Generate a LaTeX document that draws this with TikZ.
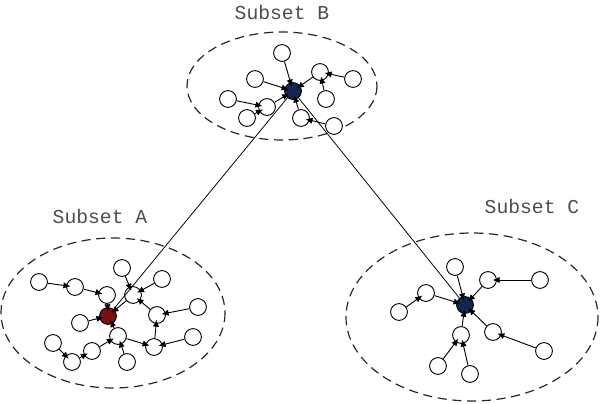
\documentclass[tikz,border=0pt]{standalone}
\usepackage{fontspec}
\setmonofont{Liberation Mono}
\usetikzlibrary{arrows.meta}
\definecolor{hubnavy}{HTML}{132650}
\definecolor{hubmaroon}{HTML}{7A1014}
\tikzset{
  member/.style={circle, draw=black, fill=white, line width=0.65pt, minimum size=0.42cm, inner sep=0pt},
  hubB/.style={member, fill=hubnavy},
  hubA/.style={member, fill=hubmaroon},
  subsetring/.style={draw=black!85, line width=0.85pt, dash pattern=on 6.5pt off 4pt},
  subsetlabel/.style={font=\ttfamily\fontsize{14}{16}\selectfont, text=black!70},
  link/.style={line width=0.65pt, -{Latex[length=5pt,width=4.5pt]}, shorten >=-3pt},
  bridge/.style={line width=0.55pt},
}

\begin{document}
\begin{tikzpicture}[x=0.025cm,y=-0.025cm]
\useasboundingbox (0,0) rectangle (600,403);
% subsets
\draw[subsetring] (282,86) ellipse [x radius=95, y radius=54];
\draw[subsetring] (113,313) ellipse [x radius=112, y radius=75];
\draw[subsetring] (472,317) ellipse [x radius=126, y radius=84];
\node[subsetlabel] (labB) at (282,12) {Subset B};
\node[subsetlabel] (labA) at (100,216) {Subset A};
\node[subsetlabel] (labC) at (532,206) {Subset C};
% subset B
\node[hubB] (hB) at (293,91) {};
\node[member] (b1) at (282,53) {};
\node[member] (b2) at (255,79) {};
\node[member] (bR) at (320,72) {};
\node[member] (b3) at (353,79) {};
\node[member] (b4) at (326,99) {};
\node[member] (bL) at (267,107) {};
\node[member] (b5) at (228,99) {};
\node[member] (b6) at (247,118) {};
\node[member] (b7) at (301,118) {};
\node[member] (b8) at (334,126) {};
% subset A
\node[hubA] (hA) at (108,316) {};
\node[member] (a1) at (39,282) {};
\node[member] (a2) at (75,287) {};
\node[member] (a3) at (107,295) {};
\node[member] (aR) at (133,295) {};
\node[member] (a4) at (122,268) {};
\node[member] (a5) at (162,279) {};
\node[member] (a6) at (157,315) {};
\node[member] (a7) at (198,307) {};
\node[member] (a8) at (80,323) {};
\node[member] (aS) at (118,336) {};
\node[member] (a9) at (154,347) {};
\node[member] (a10) at (193,337) {};
\node[member] (a11) at (127,362) {};
\node[member] (a12) at (92,351) {};
\node[member] (a13) at (72,362) {};
\node[member] (a14) at (53,343) {};
% subset C
\node[hubB] (hC) at (465,305) {};
\node[member] (c1) at (455,267) {};
\node[member] (cR) at (488,280) {};
\node[member] (c2) at (540,280) {};
\node[member] (cL) at (426,293) {};
\node[member] (c3) at (399,312) {};
\node[member] (cB) at (493,332) {};
\node[member] (c4) at (544,351) {};
\node[member] (cM) at (461,335) {};
\node[member] (c5) at (438,366) {};
\node[member] (c6) at (470,374) {};
% links
\foreach \s/\t in {b1/hB, b2/hB, bR/hB, b3/bR, b4/bR, bL/hB, b5/bL, b6/bL, b7/hB, b8/b7,
  a1/a2, a2/a3, a3/hA, a4/aR, a5/aR, aR/hA, a6/aR, a7/a6, a9/a6, a10/a9, aS/a9,
  aS/hA, a11/aS, a12/aS, a13/a12, a14/a13, a8/hA,
  c1/hC, cR/hC, c2/cR, cL/hC, c3/cL, cB/hC, c4/cB, cM/hC, c5/cM, c6/cM}
  \draw[link] (\s) -- (\t);
\draw[bridge] (hB) -- (hA);
\draw[bridge] (hB) -- (hC);
\end{tikzpicture}
\end{document}
